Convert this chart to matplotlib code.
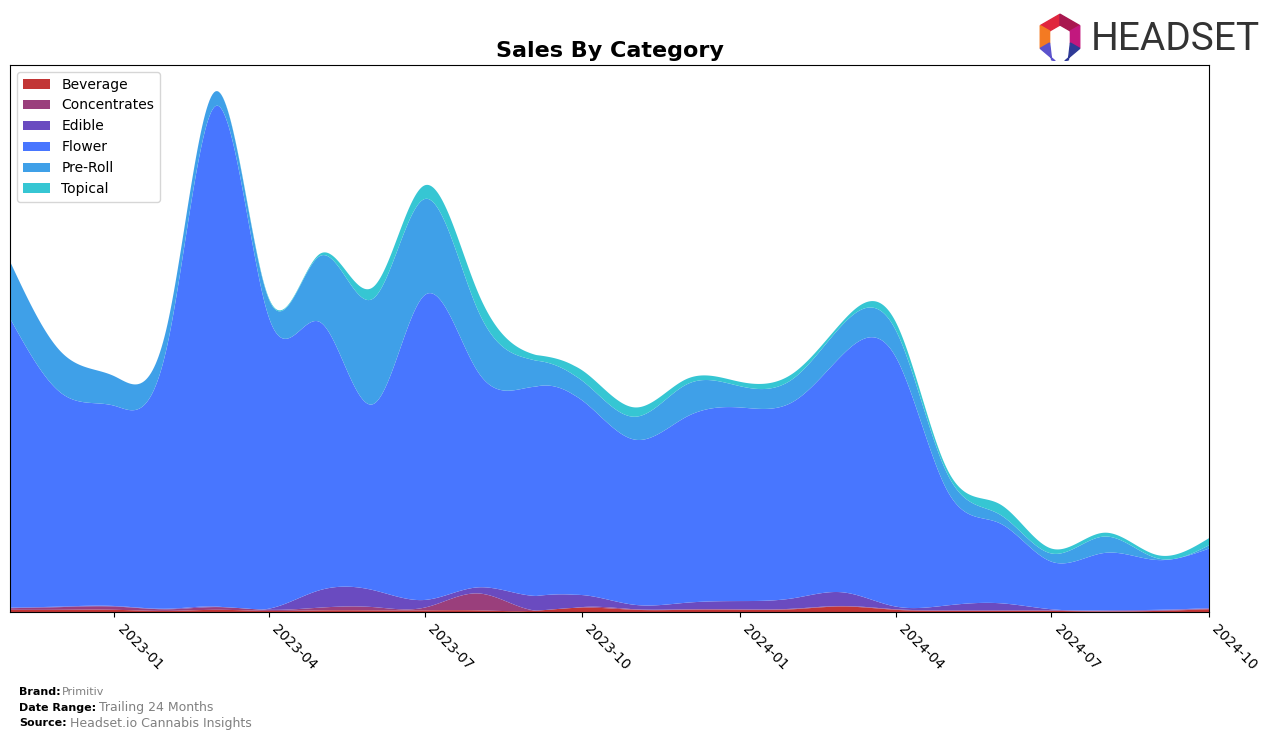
import numpy as np
import matplotlib
matplotlib.use('Agg')
import matplotlib.pyplot as plt
import matplotlib.dates as mdates
from matplotlib.patches import Polygon
import datetime as dt

# monthly sales by category (arbitrary units)
months = ['2022-11', '2022-12', '2023-01', '2023-02', '2023-03', '2023-04',
          '2023-05', '2023-06', '2023-07', '2023-08', '2023-09', '2023-10',
          '2023-11', '2023-12', '2024-01', '2024-02', '2024-03', '2024-04',
          '2024-05', '2024-06', '2024-07', '2024-08', '2024-09', '2024-10']
categories = ['Beverage', 'Concentrates', 'Edible', 'Flower', 'Pre-Roll', 'Topical']
beverage = [0.4, 0.4, 0.4, 0.2, 0.4, 0.2, 0.3, 0.3, 0.3, 0.3, 0.2, 0.8,
            0.4, 0.4, 0.4, 0.5, 1.0, 0.4, 0.2, 0.2, 0.2, 0.1, 0.2, 0.5]
concentrates = [0.3, 0.5, 0.6, 0.3, 0.5, 0.2, 0.5, 0.6, 0.5, 3.1, 0.2, 0.1,
                0.1, 0.1, 0.1, 0.1, 0.1, 0.1, 0.1, 0.1, 0.1, 0.1, 0.1, 0.1]
edible = [0.1, 0.1, 0.1, 0.1, 0.1, 0.2, 3.2, 3.1, 1.4, 1.1, 2.6, 2.2,
          0.8, 1.2, 1.5, 1.9, 2.5, 0.5, 0.9, 1.3, 0.2, 0.1, 0.1, 0.1]
flower = [52.9, 39.0, 36.6, 48.4, 91.5, 53.4, 49.0, 34.0, 55.7, 39.5, 38.1, 35.6,
          30.2, 34.0, 35.4, 35.9, 43.4, 45.7, 21.1, 14.6, 8.7, 10.5, 9.1, 10.9]
pre_roll = [10.4, 7.5, 5.4, 3.7, 2.7, 3.3, 12.1, 19.3, 17.6, 11.3, 5.1, 3.6,
            4.2, 5.9, 3.9, 4.2, 5.5, 4.9, 3.1, 1.6, 1.5, 3.0, 0.3, 0.6]
topical = [0.0, 0.0, 0.0, 0.0, 0.0, 0.2, 0.4, 2.1, 2.5, 3.3, 1.1, 1.9,
           1.7, 1.0, 0.8, 1.0, 0.6, 1.5, 0.8, 1.9, 0.9, 0.7, 0.6, 1.3]
colors = ['#C23535', '#9A3F7C', '#6A4BC0', '#4876FF', '#3FA0E8', '#36C6D3']


def smooth(x, y, xs):
    # natural cubic spline, only used to draw the curves smoothly
    x = np.asarray(x, float)
    y = np.asarray(y, float)
    n = len(x)
    h = np.diff(x)
    A = np.zeros((n, n))
    b = np.zeros(n)
    A[0, 0] = 1
    A[-1, -1] = 1
    for i in range(1, n - 1):
        A[i, i - 1] = h[i - 1]
        A[i, i] = 2 * (h[i - 1] + h[i])
        A[i, i + 1] = h[i]
        b[i] = 3 * ((y[i + 1] - y[i]) / h[i] - (y[i] - y[i - 1]) / h[i - 1])
    c = np.linalg.solve(A, b)
    bb = (y[1:] - y[:-1]) / h - h * (2 * c[:-1] + c[1:]) / 3
    d = (c[1:] - c[:-1]) / (3 * h)
    k = np.clip(np.searchsorted(x, xs) - 1, 0, n - 2)
    t = xs - x[k]
    return y[k] + bb[k] * t + c[k] * t ** 2 + d[k] * t ** 3


dates = [dt.datetime.strptime(m, '%Y-%m') for m in months]
xn = mdates.date2num(dates)
xs = np.linspace(xn[0], xn[-1], 800)
series = [beverage, concentrates, edible, flower, pre_roll, topical]
ys = [np.clip(smooth(xn, s, xs), 0, None) for s in series]

fig = plt.figure(figsize=(12.76, 7.39), dpi=100)
ax = fig.add_axes([10 / 1276, 1 - 612 / 739, 1199 / 1276, 547 / 739])
ax.stackplot(mdates.num2date(xs), *ys, labels=categories, colors=colors)
total = np.sum(ys, axis=0)
ax.set_ylim(0, total.max() * 1.05)
ax.set_xlim(dates[0], dates[-1])
ax.set_yticks([])
ax.xaxis.set_major_locator(mdates.MonthLocator(bymonth=[1, 4, 7, 10]))
ax.xaxis.set_major_formatter(mdates.DateFormatter('%Y-%m'))
for lab in ax.get_xticklabels():
    lab.set_rotation(-45)
    lab.set_ha('left')
    lab.set_fontsize(10)
ax.legend(loc='upper left', fontsize=10)
ax.set_title('Sales By Category', fontsize=16, fontweight='bold')

# footer
fig.text(19 / 1276, 1 - 692 / 739, 'Brand:', fontsize=8, fontweight='bold', va='center')
fig.text(62 / 1276, 1 - 692 / 739, 'Primitiv', fontsize=8, color='gray', va='center')
fig.text(19 / 1276, 1 - 708 / 739, 'Date Range:', fontsize=8, fontweight='bold', va='center')
fig.text(99 / 1276, 1 - 708 / 739, 'Trailing 24 Months', fontsize=9, color='gray', va='center')
fig.text(19 / 1276, 1 - 723 / 739, 'Source:', fontsize=8, fontweight='bold', va='center')
fig.text(70 / 1276, 1 - 723 / 739, 'Headset.io Cannabis Insights', fontsize=9, color='gray', va='center')

# logo
fig.text(1091 / 1276, 1 - 39 / 739, 'HEADSET', fontsize=28, color='#333333', va='center',
         family=['Roboto', 'DejaVu Sans'])
lax = fig.add_axes([1036 / 1276, 1 - 61 / 739, 48 / 1276, 48 / 739])
lax.set_xlim(-1, 1)
lax.set_ylim(-1, 1)
lax.axis('off')
ro, ri = 0.95, 0.5
def pt(r, a):
    return (r * np.cos(np.radians(a)), r * np.sin(np.radians(a)))
segs = [(90, 150, '#E0263E'), (30, 90, '#A8174F'), (150, 210, '#F47A22'),
        (330, 30, '#C2187E')]
for a0, a1, col in segs:
    a1 = a1 if a1 > a0 else a1 + 360
    lax.add_patch(Polygon([pt(ro, a0), pt(ro, a1), pt(ri, a1), pt(ri, a0)], color=col))
lax.add_patch(Polygon([pt(ro, 210), pt(ri, 210), (-0.35, -0.95), (-0.2, -1.0)], color='#5B52CC'))
lax.add_patch(Polygon([pt(ro, 330), pt(ri, 330), (0.35, -0.95), (0.2, -1.0)], color='#2E3A96'))

fig.savefig('out.png', dpi=100)
